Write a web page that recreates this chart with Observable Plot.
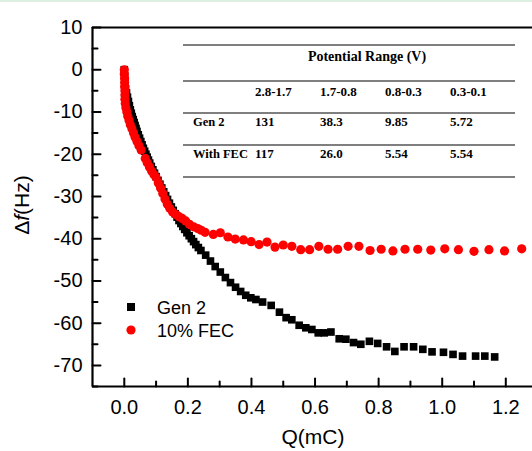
<!DOCTYPE html>
<html>
<head>
<meta charset="utf-8">
<script src="https://cdn.jsdelivr.net/npm/d3@7"></script>
<script src="https://cdn.jsdelivr.net/npm/@observablehq/plot@0.6"></script>
<style>
  html, body { margin: 0; padding: 0; background: #fff; }
  #wrap { position: relative; width: 532px; height: 451px; overflow: hidden; }
  #topline { position: absolute; left: 0; top: 0; width: 532px; height: 2px; background: #dcefe0; }
</style>
</head>
<body>
<div id="wrap"><div id="topline"></div></div>
<script>
// ---- Data ----
const gen2Q = [0.000,0.001,0.002,0.004,0.007,0.010,0.013,0.016,0.019,0.022,0.025,0.028,0.031,0.034,0.037,0.040,0.044,0.048,0.052,0.056,0.060,0.064,0.068,0.072,0.076,0.080,0.085,0.090,0.095,0.100,0.106,0.112,0.118,0.124,0.130,0.136,0.142,0.148,0.154,0.160,0.166,0.172,0.178,0.184,0.190,0.197,0.204,0.211,0.218,0.225,0.233,0.241,0.256,0.271,0.286,0.302,0.318,0.334,0.350,0.366,0.382,0.398,0.414,0.435,0.462,0.488,0.509,0.527,0.550,0.571,0.590,0.610,0.629,0.650,0.676,0.697,0.721,0.744,0.771,0.797,0.825,0.851,0.880,0.910,0.939,0.968,1.004,1.034,1.064,1.105,1.134,1.165];
const gen2Df = [0,-1.5,-3,-4.5,-5.5,-6.5,-7.5,-8.5,-9.5,-10.3,-11.1,-11.8,-12.5,-13.2,-13.9,-14.6,-15.4,-16.2,-17.0,-17.8,-18.6,-19.3,-20.0,-20.7,-21.4,-22.1,-22.9,-23.7,-24.5,-25.3,-26.2,-27.1,-28.0,-28.9,-29.8,-30.7,-31.6,-32.5,-33.3,-34.1,-34.9,-35.7,-36.4,-37.1,-37.8,-38.6,-39.3,-40.0,-40.7,-41.4,-42.1,-42.8,-43.9,-45.3,-46.6,-47.9,-49.2,-50.4,-51.5,-52.5,-53.4,-54.0,-54.4,-55.0,-55.8,-57.4,-58.7,-59.2,-60.5,-61.1,-61.5,-62.3,-62.3,-62.1,-63.7,-63.8,-64.6,-65.0,-64.3,-64.8,-65.6,-66.7,-65.6,-65.6,-66.2,-66.8,-66.9,-67.4,-67.8,-67.8,-67.8,-68.0];

const fecQ = [0.000,0.000,0.001,0.001,0.001,0.002,0.002,0.002,0.003,0.005,0.008,0.011,0.015,0.019,0.024,0.029,0.034,0.040,0.046,0.053,0.066,0.072,0.079,0.086,0.093,0.100,0.107,0.114,0.121,0.128,0.135,0.143,0.152,0.162,0.172,0.182,0.193,0.205,0.218,0.231,0.242,0.254,0.280,0.302,0.326,0.349,0.375,0.399,0.424,0.449,0.474,0.500,0.527,0.555,0.583,0.612,0.641,0.671,0.704,0.738,0.773,0.808,0.845,0.883,0.923,0.964,1.008,1.051,1.100,1.147,1.196,1.250];
const fecDf = [0,-1,-2,-3,-4,-5,-6,-7,-8,-9,-10,-11,-12,-13,-14,-15,-16,-17,-18,-19,-21.0,-22.0,-23.0,-24.0,-24.8,-25.5,-26.8,-28.0,-29.3,-30.6,-31.8,-32.8,-33.7,-34.3,-34.8,-35.2,-35.8,-36.6,-37.2,-37.6,-38.0,-38.5,-39.0,-38.6,-39.6,-40.1,-40.3,-40.7,-41.4,-40.8,-42.0,-41.5,-41.8,-42.6,-42.6,-41.8,-42.5,-42.5,-41.8,-41.8,-42.8,-42.5,-42.9,-42.5,-42.5,-42.7,-42.4,-42.6,-43.0,-42.6,-42.9,-42.4];

const seriesNames = ["Gen 2", "10% FEC"];
const xMajorTicks = [0, 0.2, 0.4, 0.6, 0.8, 1.0, 1.2];
const xMinorTicks = [0.1, 0.3, 0.5, 0.7, 0.9, 1.1];
const yMajorTicks = [-70, -60, -50, -40, -30, -20, -10, 0, 10];
const yMinorTicks = [-75, -65, -55, -45, -35, -25, -15, -5, 5];

const tableTitle = "Potential Range (V)";
const tableColumns = ["2.8-1.7", "1.7-0.8", "0.8-0.3", "0.3-0.1"];
const tableRowNames = ["Gen 2", "With FEC"];
const tableGen2 = ["131", "38.3", "9.85", "5.72"];
const tableFEC = ["117", "26.0", "5.54", "5.54"];

// ---- Build ----
const gen2 = gen2Q.map((q, i) => ({q, df: gen2Df[i]}));
const fec = fecQ.map((q, i) => ({q, df: fecDf[i]}));
const font = "'Liberation Sans', Arial, sans-serif";
const xMin = -0.1, yMin = -75;
const tickLine = {draw(context, l) { context.moveTo(0, 0); context.lineTo(0, -l); }};

const chart = Plot.plot({
  width: 532,
  height: 451,
  marginLeft: 92,
  marginRight: 0,
  marginTop: 27,
  marginBottom: 65,
  style: {fontFamily: font, background: "white", color: "black"},
  x: {domain: [xMin, 1.284]},
  y: {domain: [yMin, 10]},
  marks: [
    Plot.axisX({ticks: xMajorTicks, tickSize: 0, tickPadding: 13, fontSize: 20, tickFormat: d3.format(".1f"), label: null}),
    Plot.axisY({ticks: yMajorTicks, tickSize: 0, tickPadding: 10, fontSize: 20, tickFormat: d => String(d), label: null}),
    // inward tick marks
    Plot.vector(xMajorTicks, {x: d => d, y: yMin, length: 8, rotate: 0, anchor: "start", shape: tickLine, stroke: "black", strokeWidth: 2}),
    Plot.vector(xMinorTicks, {x: d => d, y: yMin, length: 5, rotate: 0, anchor: "start", shape: tickLine, stroke: "black", strokeWidth: 2}),
    Plot.vector(yMajorTicks, {x: xMin, y: d => d, length: 8, rotate: 90, anchor: "start", shape: tickLine, stroke: "black", strokeWidth: 2}),
    Plot.vector(yMinorTicks, {x: xMin, y: d => d, length: 5, rotate: 90, anchor: "start", shape: tickLine, stroke: "black", strokeWidth: 2}),
    Plot.ruleX([xMin], {stroke: "black", strokeWidth: 2.2}),
    Plot.ruleY([yMin], {stroke: "black", strokeWidth: 2.2}),
    Plot.ruleY([10], {stroke: "black", strokeWidth: 2}),
    Plot.dot(gen2, {x: "q", y: "df", symbol: "square", r: 4.3, fill: "black", stroke: "none"}),
    Plot.dot(fec, {x: "q", y: "df", symbol: "circle", r: 4.6, fill: "#ff0000", stroke: "none"})
  ]
});

document.getElementById("wrap").prepend(chart);
const svg = d3.select(chart);

// Axis titles
const yl = svg.append("text")
  .attr("transform", "translate(29,205) rotate(-90)")
  .attr("text-anchor", "middle")
  .attr("font-family", font)
  .attr("font-size", 21)
  .attr("fill", "black");
yl.append("tspan").text("\u0394");
yl.append("tspan").attr("font-style", "italic").text("f");
yl.append("tspan").text("(Hz)");

svg.append("text")
  .attr("x", 313).attr("y", 444)
  .attr("text-anchor", "middle")
  .attr("font-family", font)
  .attr("font-size", 21)
  .attr("fill", "black")
  .text("Q(mC)");

// Legend
const lg = svg.append("g").attr("font-family", font).attr("font-size", 18).attr("fill", "black").attr("text-anchor", "start");
lg.append("rect").attr("x", 127).attr("y", 303).attr("width", 8).attr("height", 8).attr("fill", "black");
lg.append("text").attr("x", 157).attr("y", 313.5).text(seriesNames[0]);
lg.append("circle").attr("cx", 131).attr("cy", 330).attr("r", 4.6).attr("fill", "#ff0000");
lg.append("text").attr("x", 157).attr("y", 336.5).text(seriesNames[1]);

// Inset table
const tb = svg.append("g").attr("font-family", "'Liberation Serif', 'Times New Roman', serif").attr("font-weight", "bold").attr("fill", "black").attr("text-anchor", "start");
[45, 81, 113, 145, 177].forEach(y => {
  tb.append("line").attr("x1", 183).attr("x2", 515).attr("y1", y).attr("y2", y).attr("stroke", "#555").attr("stroke-width", 1.3);
});
tb.append("text").attr("x", 367).attr("y", 61).attr("text-anchor", "middle").attr("font-size", 14).text(tableTitle);
const colX = [255, 320, 385, 450];
tableColumns.forEach((c, i) => tb.append("text").attr("x", colX[i]).attr("y", 96).attr("font-size", 13).text(c));
tb.append("text").attr("x", 193).attr("y", 126).attr("font-size", 12.5).text(tableRowNames[0]);
tableGen2.forEach((c, i) => tb.append("text").attr("x", colX[i]).attr("y", 126).attr("font-size", 13).text(c));
tb.append("text").attr("x", 193).attr("y", 158).attr("font-size", 12.5).text(tableRowNames[1]);
tableFEC.forEach((c, i) => tb.append("text").attr("x", colX[i]).attr("y", 158).attr("font-size", 13).text(c));
</script>
</body>
</html>
